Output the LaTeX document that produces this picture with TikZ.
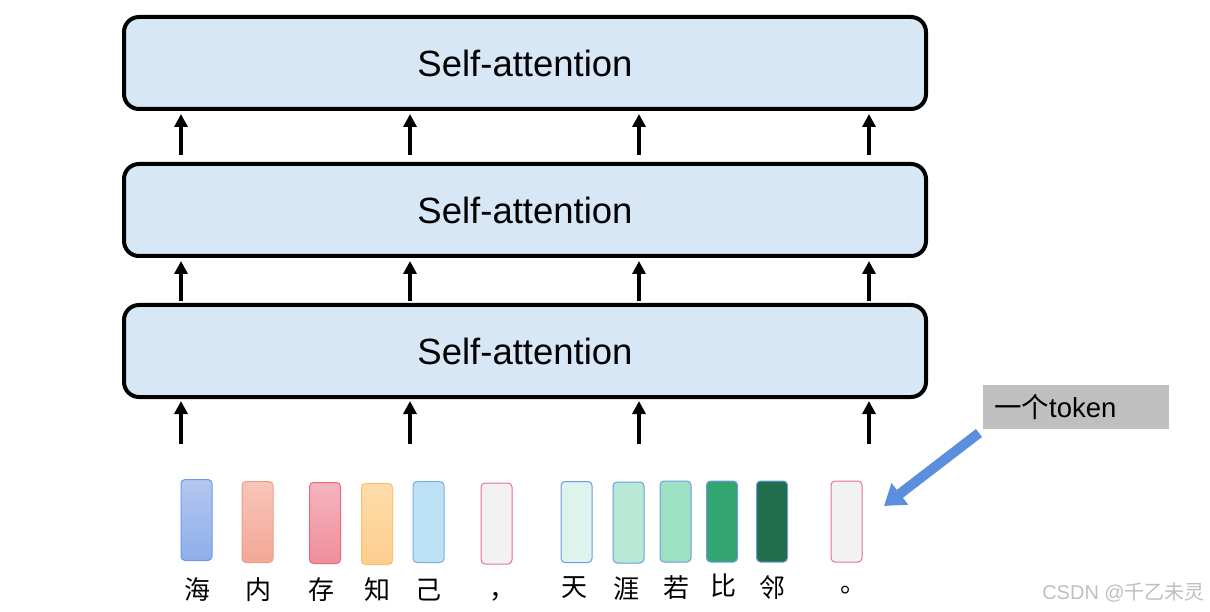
\documentclass[tikz,border=0pt]{standalone}
\usepackage{fontspec}
\setmainfont{Liberation Sans}
\newfontfamily\cjk{Noto Sans CJK SC}
\usetikzlibrary{arrows.meta}
\definecolor{attfill}{HTML}{D8E7F6}
\definecolor{tokbluetop}{HTML}{B4C7F0}\definecolor{tokbluebot}{HTML}{8FAEEB}
\definecolor{blueedge}{HTML}{6E9BE3}
\definecolor{salmontop}{HTML}{F7C6BA}\definecolor{salmonbot}{HTML}{F4A796}\definecolor{salmonedge}{HTML}{F29A8A}
\definecolor{pinktop}{HTML}{F5B5BE}\definecolor{pinkbot}{HTML}{F08D9B}\definecolor{pinkedge}{HTML}{E8687E}
\definecolor{orangetop}{HTML}{FEDCAA}\definecolor{orangebot}{HTML}{FECD8E}\definecolor{orangeedge}{HTML}{FFC06A}
\definecolor{skyfill}{HTML}{BDE2F5}\definecolor{skyedge}{HTML}{7BAEE8}
\definecolor{greyfill}{HTML}{F2F2F2}\definecolor{rededge}{HTML}{E8708A}
\definecolor{g1}{HTML}{DDF3EB}\definecolor{g2}{HTML}{B8E8D6}\definecolor{g3}{HTML}{9EE0C4}
\definecolor{g4}{HTML}{33A570}\definecolor{g5}{HTML}{216D4C}
\definecolor{calloutfill}{HTML}{BFBFBF}
\definecolor{bigarrow}{HTML}{5B8FDE}
\begin{document}
\begin{tikzpicture}[x=1pt,y=-1pt,
  attbox/.style={draw=black, line width=4pt, rounded corners=15pt, fill=attfill,
    minimum width=802pt, minimum height=92pt, inner sep=0pt,
    font=\fontsize{36.5}{40}\selectfont},
  tok/.style={rounded corners=4pt, line width=1pt, minimum width=31pt, minimum height=81pt, inner sep=0pt},
  lbl/.style={font=\cjk\fontsize{26}{28}\selectfont, inner sep=0pt},
  uparrow/.style={line width=4pt, -{Triangle[width=13pt,length=13pt]}},
]
\useasboundingbox (0,0) rectangle (1210,612);

% self-attention layers
\node[attbox] (sa1) at (525,63) {Self-attention};
\node[attbox] (sa2) at (525,210) {Self-attention};
\node[attbox] (sa3) at (525,351) {Self-attention};

% arrows between layers
\foreach \x in {181,410,639,869}{
  \draw[uparrow] ([yshift=7pt]sa2.north -| \x,0) -- ([yshift=-3pt]sa1.south -| \x,0);
  \draw[uparrow] ([yshift=2pt]sa3.north -| \x,0) -- ([yshift=-3pt]sa2.south -| \x,0);
  \coordinate (in\x) at (\x,444);
  \draw[uparrow] (in\x) -- ([yshift=-2pt]sa3.south -| \x,0);
}

% tokens
\node[tok, draw=blueedge, top color=tokbluetop, bottom color=tokbluebot] (t1) at (196.5,520) {};
\node[tok, draw=salmonedge, top color=salmontop, bottom color=salmonbot] (t2) at (257.5,522) {};
\node[tok, draw=pinkedge, top color=pinktop, bottom color=pinkbot] (t3) at (325,523) {};
\node[tok, draw=orangeedge, top color=orangetop, bottom color=orangebot] (t4) at (377,524) {};
\node[tok, draw=skyedge, fill=skyfill] (t5) at (428.5,522) {};
\node[tok, draw=rededge, fill=greyfill] (t6) at (496.5,523.5) {};
\node[tok, draw=blueedge, fill=g1] (t7) at (576.5,522) {};
\node[tok, draw=blueedge, fill=g2] (t8) at (628.5,522.5) {};
\node[tok, draw=blueedge, fill=g3] (t9) at (675.5,521.5) {};
\node[tok, draw=blueedge, fill=g4] (t10) at (722,521.5) {};
\node[tok, draw=blueedge, fill=g5] (t11) at (772,521.5) {};
\node[tok, draw=rededge, fill=greyfill] (t12) at (846.5,521.5) {};

% labels
\node[lbl] (l1) at (197,590) {海};
\node[lbl] (l2) at (258,590) {内};
\node[lbl] (l3) at (321,590) {存};
\node[lbl] (l4) at (377,590) {知};
\node[lbl] (l5) at (428,590) {己};
\node[lbl] (l6) at (502,597) {，};
\node[lbl] (l7) at (574,588) {天};
\node[lbl] (l8) at (626,589) {涯};
\node[lbl] (l9) at (676,588) {若};
\node[lbl] (l10) at (723,586) {比};
\node[lbl] (l11) at (772,588) {邻};
\node[lbl] (l12) at (853,590) {。};

% callout
\node[fill=calloutfill, minimum width=186pt, minimum height=44pt, inner sep=0pt] (call) at (1076,407) {};
\node[anchor=west, inner sep=0pt, font=\fontsize{27.5}{30}\selectfont] (calltxt) at (994,407) {{\cjk 一个}token};
\coordinate (arrtail) at (979,433);
\coordinate (arrtip) at (884,506);
\draw[line width=10pt, draw=bigarrow, -{Triangle[width=26pt,length=20pt]}] (arrtail) -- (arrtip);

% watermark
\node[anchor=east, inner sep=0pt, text=black!25, font=\fontsize{20}{22}\selectfont] (wm) at (1205,592) {CSDN @{\cjk 千乙未灵}};
\end{tikzpicture}
\end{document}
